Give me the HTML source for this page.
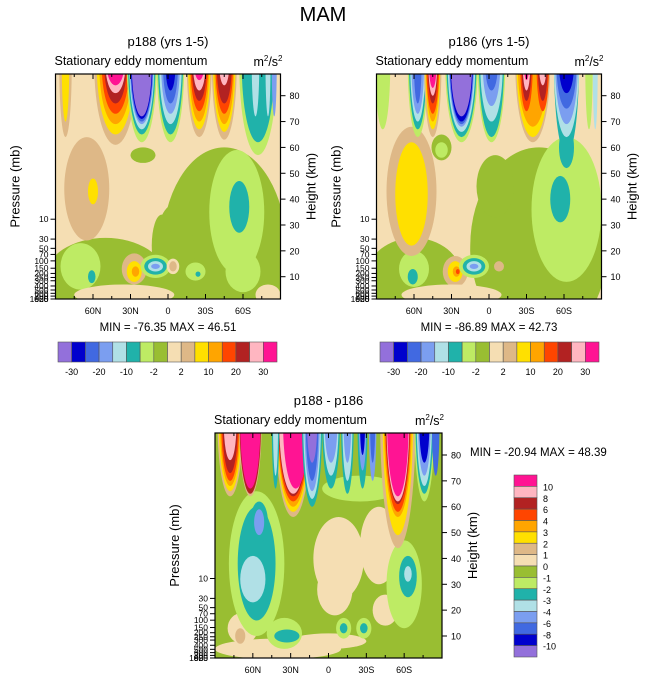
<!DOCTYPE html>
<html><head><meta charset="utf-8">
<style>
html,body{margin:0;padding:0;background:#fff;}
body{width:647px;height:683px;overflow:hidden;font-family:"Liberation Sans",sans-serif;}
svg text{font-family:"Liberation Sans",sans-serif;fill:#000;}
</style></head>
<body>
<svg id="chart" width="647" height="683" viewBox="0 0 647 683" xmlns="http://www.w3.org/2000/svg">
<text x="323" y="21" font-size="20" text-anchor="middle">MAM</text>
</svg>
<script>
// colour palette (16 levels, lowest to highest)
const palette = ["#9370DB","#0000CD","#4169E1","#7B9EF0","#B0E0E6","#20B2AA","#BEEB64","#99BE32","#F5DEB3","#DEB887","#FFE000","#FFA500","#FF4500","#B22222","#FFB6C1","#FF1493"];
const topLevelLabels = ["-30","-20","-10","-2","2","10","20","30"];
const diffLevelLabels = ["10","8","6","4","3","2","1","0","-1","-2","-3","-4","-6","-8","-10"];
const latTicks = [60,30,0,-30,-60];
const latTickLabels = ["60N","30N","0","30S","60S"];
const heightTicks = [10,20,30,40,50,60,70,80];
const pressureTicks = [10,30,50,70,100,150,200,250,300,400,500,600,700,850,925,1000];
// blobs: [lat, height km, lat half-width, height half-width, level index]
const blobsA = [
[-45,20,50,40,7],[-5,18,16,20,7],[5,22,8,12,7],[50,10,48,15,7],[20,57,10,3,7],
[-55,35,22,24,6],[-60,12,14,8,6],[-57,37,8,10,5],
[70,14,16,9,6],[61,10,3,2.5,5],[65,44,18,20,9],[60,43,4,5,10],
[27,13,10,6,9],[27,12,6,4,10],[26,12,3,2,11],
[10,14,12,4.5,6],[10,14,9,3.2,5],[10,14,6,2,4],[10,14,3.5,1,3],
[-4,14,5,3,8],[-4,14,3,2,9],[-22,12,8,3.5,6],[-24,11,2,1,5],[35,3,40,4,8],[-80,3,10,4,8],
[82,92,5,28,9],[82,92,3,22,10],
[42,92,17,31,9],[42,92,15,27,10],[42,92,13,23,11],[42,92,11,19,12],[42,92,9,15,13],[42,92,8,11,14],[42,92,7,8,15],
[21,92,12,30,6],[21,92,11,27,5],[21,92,10,25,4],[21,92,9.5,23,3],[21,92,9,22,2],[21,92,8.5,21,1],[21,92,8,20,0],
[-2,92,11,30,6],[-2,92,10,27,5],[-2,92,9,23,4],[-2,92,7.5,19,3],[-2,92,6,15,2],[-2,92,4,10,1],
[-25,92,10,28,9],[-25,92,9,25,10],[-25,92,8,22,11],[-25,92,7,18,12],[-25,92,6,14,13],[-25,92,5,10,14],[-25,92,4,6,15],
[-45,92,10,29,9],[-45,92,9,26,10],[-45,92,8,23,11],[-45,92,7,19,12],[-45,92,6,15,13],[-45,92,4,8,14],
[-72,92,15,35,6],[-72,92,13,30,5],[-70,92,3,20,4],[-80,92,2,20,4],[-85,92,2,20,3]
];
const blobsB = [
[-40,22,55,38,7],[60,10,38,15,7],[0,20,15,15,7],[-5,45,15,12,7],[-62,36,28,28,6],[-57,40,8,9,5],[-62,60,6,8,5],
[60,13,12,7,6],[61,10,4,3,5],[62,43,20,25,9],[62,42,13,20,10],
[38,60,8,5,7],[38,59,5,3,6],
[27,12,10,6,9],[27,12,6,4,10],[26,12,3,2,11],[25,12,1.5,1,12],
[12,14,12,4.5,6],[12,14,9,3.2,5],[12,14,6,2,4],[12,14,3.5,1,3],[-8,14,4,2,9],[30,3,40,4,8],
[85,92,6,25,6],
[57,92,8,28,6],[57,92,7,25,5],[57,92,6,22,4],[57,92,5,19,3],[57,92,3,15,2],
[45,92,7,28,9],[45,92,6,25,10],[45,92,5.5,22,11],[45,92,5,19,12],[45,92,4,15,13],[45,92,3.5,12,14],[45,92,3,9,15],
[22,92,13,30,6],[22,92,12,28,5],[22,92,11,26,4],[22,92,10,24,3],[22,92,9.5,23,2],[22,92,9,22,1],[22,92,8.5,20,0],
[-2,92,11,30,6],[-2,92,10,28,5],[-2,92,9,22,4],[-2,92,7,16,3],[-2,92,5,10,2],
[-35,92,14,30,9],[-35,92,13,28,10],[-35,92,12,24,11],[-30,92,5,18,12],[-43,92,5,18,12],[-30,92,4,14,13],[-43,92,4,14,13],[-30,92,3,10,14],[-43,92,3,8,14],[-30,92,2,6,15],
[-62,92,10,35,5],[-62,92,10,28,4],[-62,92,9,23,3],[-62,92,8,17,2],[-62,92,6,11,1],
[-80,92,3,25,6],[-85,92,2,25,4]
];
const blobsC = [
[-8,40,20,16,8],[-5,28,14,10,8],[-40,45,15,15,8],[40,5,50,4,8],[0,8,30,3,8],[68,13,12,6,8],[-45,20,10,6,8],
[-25,67,30,5,6],
[57,38,22,28,6],[57,38,15,22,5],[60,32,10,9,4],[55,54,7,8,5],[55,54,4,5,3],
[-60,30,14,17,6],[-63,33,7,8,5],[-63,34,3,3,4],
[-12,13,6,4,6],[-12,13,3,2,5],[-28,13,6,4,6],[-28,13,3,2,5],[35,11,14,6,6],[33,10,10,2.5,5],[70,10,4,3,9],
[78,92,10,28,9],[78,92,9,26,10],[78,92,8,24,11],[78,92,7,22,12],[78,92,6,19,13],[78,92,5,14,14],
[62,92,9,28,9],[62,92,8.5,27,13],[62,92,8,25,15],
[28,92,14,36,9],[28,92,13,34,10],[28,92,12.5,32,11],[28,92,12,30,12],[28,92,11.5,28,13],[28,92,11,27,14],[26,92,10,25,15],
[42,92,3,25,5],[42,92,2,20,4],
[13,92,8,32,5],[13,92,7,29,4],[13,92,6,26,3],[13,92,5,22,2],[13,92,4,15,0],
[-2,92,7,25,5],[-2,92,6,20,4],[-2,92,5,15,3],
[-15,92,5,27,5],[-15,92,4,22,4],[-15,92,3,15,3],
[-27,92,4,25,5],[-27,92,3,18,3],[-27,92,2,12,1],
[-35,92,3,22,3],[-35,92,2,15,2],
[-55,92,14,48,9],[-55,92,12,43,10],[-55,92,11,36,11],[-55,92,10,34,12],[-55,92,9.5,31,13],[-55,92,9,30,14],[-55,92,8.5,28,15],
[-76,92,8,30,6],[-76,92,7,27,5],[-76,92,6,24,4],[-76,92,5,20,3],[-76,92,4,15,1],[-85,92,3,20,2]
];

const NS="http://www.w3.org/2000/svg";
const svg=document.getElementById('chart');
function mk(tag,attrs,parent){const e=document.createElementNS(NS,tag);for(const k in attrs)e.setAttribute(k,attrs[k]);(parent||svg).appendChild(e);return e;}

const panels=[
 {id:'p188',x0:55.5,x1:280.5,y0:74,y1:299,y10:276.7,base:8,blobs:blobsA,title:'p188 (yrs 1-5)',titleY:46,stat:'MIN = -76.35  MAX =  46.51'},
 {id:'p186',x0:376.5,x1:601.5,y0:74,y1:299,y10:276.7,base:8,blobs:blobsB,title:'p186 (yrs 1-5)',titleY:46,stat:'MIN = -86.89  MAX =  42.73'},
 {id:'diff',x0:215,x1:442,y0:433,y1:658,y10:636,base:7,blobs:blobsC,title:'p188 - p186',titleY:405,stat:'MIN = -20.94  MAX =  48.39'}
];
const K=181/70;
panels.forEach((p,pi)=>{
 const cx=(p.x0+p.x1)/2, sc=(p.x1-p.x0)/180;
 const xS=lat=>cx-lat*sc;
 const yS=z=>p.y10-(z-10)*K;
 const g=mk('g',{});
 
 
 const cp=mk('clipPath',{id:'clip'+pi},g);
 mk('rect',{x:p.x0,y:p.y0,width:p.x1-p.x0,height:p.y1-p.y0},cp);
 const plot=mk('g',{'clip-path':'url(#clip'+pi+')'},g);
 
 
 mk('rect',{x:p.x0,y:p.y0,width:p.x1-p.x0,height:p.y1-p.y0,fill:palette[p.base]},plot);
 p.blobs.forEach(b=>{
  const e=mk('ellipse',{cx:xS(b[0]),cy:yS(b[1]),rx:b[2]*sc,ry:b[3]*K,fill:palette[b[4]]},plot);
  
  
 });
 const fr=mk('rect',{x:p.x0,y:p.y0,width:p.x1-p.x0,height:p.y1-p.y0,fill:'none',stroke:'#000','stroke-width':1.2},g);
 
 
 for(let l=75;l>=-75;l-=15){
  const x=xS(l), major=(l%30===0);
  mk('line',{x1:x,x2:x,y1:p.y1,y2:p.y1-(major?5:3),stroke:'#000'},g);
  mk('line',{x1:x,x2:x,y1:p.y0,y2:p.y0+(major?5:3),stroke:'#000'},g);
 }
 latTicks.forEach((l,i)=>{
  const t=mk('text',{x:xS(l),y:p.y1+15,'font-size':9,'text-anchor':'middle'},g);
  t.textContent=latTickLabels[i];
  
  
 });
 heightTicks.forEach(h=>{
  const y=yS(h);
  mk('line',{x1:p.x1,x2:p.x1+5,y1:y,y2:y,stroke:'#000'},g);
  const t=mk('text',{x:p.x1+9,y:y+3.5,'font-size':9},g);
  t.textContent=h;
  
  
 });
 pressureTicks.forEach(pr=>{
  let y=yS(7*Math.log(1000/pr)); if(y>p.y1)y=p.y1;
  mk('line',{x1:p.x0-5,x2:p.x0,y1:y,y2:y,stroke:'#000'},g);
  const t=mk('text',{x:p.x0-7,y:y+3,'font-size':8.5,'text-anchor':'end'},g);
  t.textContent=pr;
  
  
 });
 let t=mk('text',{x:cx,y:p.titleY,'font-size':13,'text-anchor':'middle'},g);t.textContent=p.title;
 
 
 t=mk('text',{x:p.x0-1,y:p.y0-9,'font-size':12.5},g);t.textContent='Stationary eddy momentum';
 
 
 t=mk('text',{x:p.x1+2,y:p.y0-8,'font-size':12.5,'text-anchor':'end'},g);
 t.innerHTML='m<tspan dy="-5" font-size="8">2</tspan><tspan dy="5">/s</tspan><tspan dy="-5" font-size="8">2</tspan>';
 
 
 const ym=(p.y0+p.y1)/2;
 t=mk('text',{x:p.x0-36,y:ym,'font-size':13,'text-anchor':'middle',transform:`rotate(-90 ${p.x0-36} ${ym})`},g);t.textContent='Pressure (mb)';
 
 
 t=mk('text',{x:p.x1+35,y:ym,'font-size':13,'text-anchor':'middle',transform:`rotate(-90 ${p.x1+35} ${ym})`},g);t.textContent='Height (km)';
 
 
 if(pi<2){
  t=mk('text',{x:cx,y:p.y1+32,'font-size':11.5,'text-anchor':'middle'},g);t.textContent=p.stat;
 } else {
  t=mk('text',{x:470,y:456,'font-size':11.5},g);t.textContent=p.stat;
 }
 
 
});
[[58,277],[380,599]].forEach(([x0,x1],ci)=>{
 const g=mk('g',{});
 
 
 const w=(x1-x0)/palette.length;
 palette.forEach((c,i)=>{
  const r=mk('rect',{x:x0+i*w,y:342,width:w,height:20,fill:c,stroke:'#555','stroke-width':0.6},g);
  
  
 });
 topLevelLabels.forEach((l,i)=>{
  const t=mk('text',{x:x0+(2*i+1)*w,y:375,'font-size':9,'text-anchor':'middle'},g);t.textContent=l;
  
  
 });
});
(function(){
 const g=mk('g',{});
 
 
 const y0=475,y1=657,h=(y1-y0)/palette.length;
 palette.slice().reverse().forEach((c,i)=>{
  const r=mk('rect',{x:514,y:y0+i*h,width:23,height:h,fill:c,stroke:'#555','stroke-width':0.6},g);
  
  
 });
 diffLevelLabels.forEach((l,i)=>{
  const t=mk('text',{x:543,y:y0+(i+1)*h+4,'font-size':9},g);t.textContent=l;
  
  
 });
})();
</script>
</body></html>
